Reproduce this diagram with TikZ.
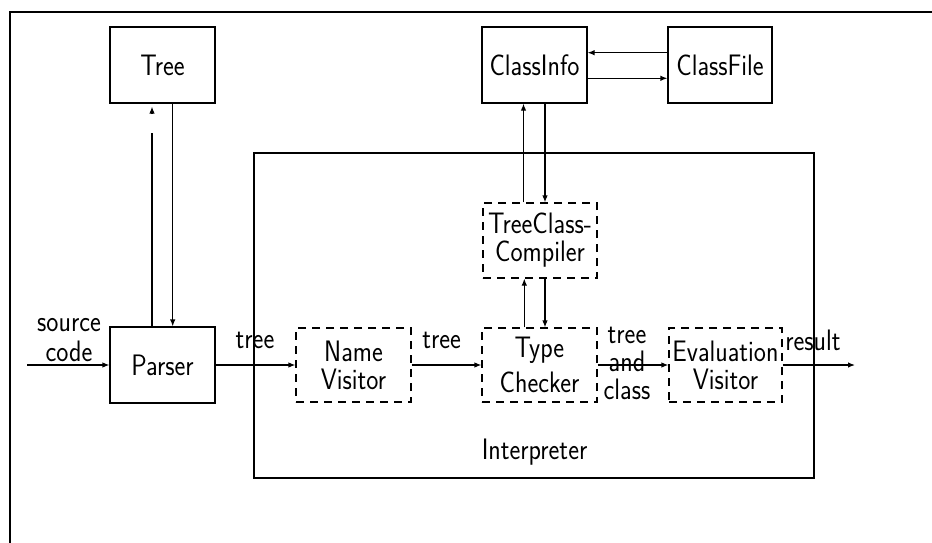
\documentclass[tikz,border=0pt]{standalone}
\usepackage{fontspec}
\usepackage{graphicx}
\usetikzlibrary{arrows.meta,calc}
% narrow sans lettering used throughout the diagram
\newcommand{\nar}[1]{\scalebox{0.87}[1]{#1}}

\begin{document}
\begin{tikzpicture}[x=1pt,y=-1pt,
  every node/.style={font=\sffamily\fontsize{29.6}{28}\selectfont, inner sep=0pt},
  ln/.style={line width=1.2pt},
  box/.style={draw, ln, rectangle, minimum width=105pt, minimum height=76pt, align=center},
  dbox/.style={box, dash pattern=on 8pt off 6pt, minimum height=74pt},
  arr/.style={ln, -{Latex[length=7pt,width=5.5pt]}},
  lbl/.style={anchor=base}
]
\useasboundingbox (0,0) rectangle (932,543);

% outer frame
\draw[ln] (10,543) -- (10,12) -- (932,12);

% top row
\node[box] (tree) at (162.5,65) {\nar{Tree}};
\node[box] (cinfo) at (534.5,65) {\nar{ClassInfo}};
\node[box, minimum width=104pt] (cfile) at (720,65) {\nar{ClassFile}};

% interpreter frame
\node[draw, ln, minimum width=560pt, minimum height=325pt] (interp) at (534,315.5) {};
\node[lbl] (interplbl) at (534.5,459) {\nar{Interpreter}};

% pipeline
\node[box] (parser) at (162.5,365) {\nar{Parser}};
\node[dbox, minimum width=115pt] (nv) at (353.5,365) {\nar{Name}\\\nar{Visitor}};
\node[dbox, minimum width=115pt] (tc) at (539.5,365) {\nar{Type}\\[7pt]\nar{Checker}};
\node[dbox, minimum width=113pt] (ev) at (725.5,365) {\nar{Evaluation}\\\nar{Visitor}};
\node[dbox, minimum width=114pt, minimum height=75pt] (tcc) at (540,240.5) {\nar{TreeClass-}\\\nar{Compiler}};

% free ends of the pipeline
\coordinate (src) at (27,365);
\coordinate (res) at (855,365);

\draw[arr] (src) -- (parser);
\draw[arr] (parser) -- (nv);
\draw[arr] (nv) -- (tc);
\draw[arr] (tc) -- (ev);
\draw[arr] (ev) -- (res);

% parser <-> tree
\coordinate (brk) at (152,133);
\coordinate (tipbase) at (152,114);
\draw[ln] ($(parser.north)+(-10.5,0)$) -- (brk);
\draw[arr] (tipbase) -- ($(tree.south)+(-10.5,3)$);
\draw[arr] ($(tree.south)+(10.2,0)$) -- ($(parser.north)+(10.2,0)$);

% classinfo <-> classfile
\draw[arr] ($(cfile.west)+(0,-12.3)$) -- ($(cinfo.east)+(0,-12.3)$);
\draw[arr] ($(cinfo.east)+(0,13.3)$) -- ($(cfile.west)+(0,13.3)$);

% classinfo <-> treeclass-compiler
\draw[arr] ($(tcc.north)+(-16.5,0)$) -- ($(cinfo.south)+(-11,0)$);
\draw[arr] ($(cinfo.south)+(10.5,0)$) -- ($(tcc.north)+(5,0)$);

% treeclass-compiler <-> type checker
\draw[arr] ($(tc.north)+(-15.2,0)$) -- ($(tcc.south)+(-15.7,0)$);
\draw[arr] ($(tcc.south)+(5,0)$) -- ($(tc.north)+(5.5,0)$);

% edge labels
\node[align=center] (srclbl) at (69,340.2) {\nar{source}\\[2pt]\nar{code}};
\node[lbl] (t1) at (255,348.3) {\nar{tree}};
\node[lbl] (t2) at (441.7,348.3) {\nar{tree}};
\node[align=center] (t3) at (627,363.5) {\nar{tree}\\\nar{and}\\\nar{class}};
\node[lbl] (reslbl) at (813,350.7) {\nar{result}};
\end{tikzpicture}
\end{document}
